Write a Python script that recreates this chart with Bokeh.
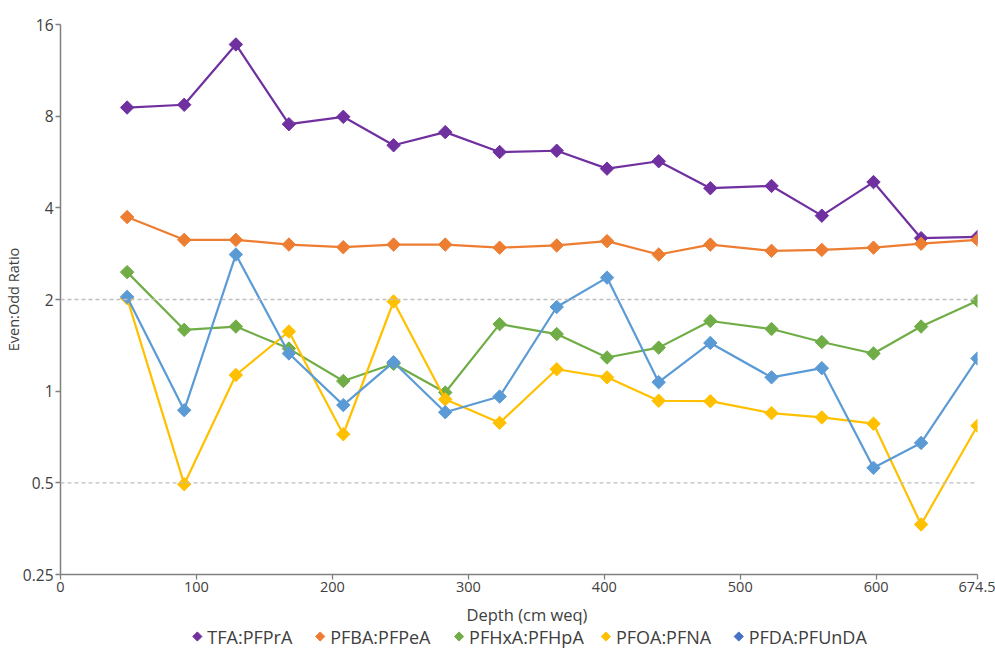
import numpy as np
from bokeh.plotting import figure
from bokeh.layouts import column
from bokeh.models import (Range1d, FixedTicker, CustomJSTickFormatter, ColumnDataSource, Span)
from bokeh.core.properties import value
from bokeh.embed import file_html
from bokeh.resources import INLINE

depth = [49, 91, 129, 168, 208, 245, 283, 323, 365, 402, 440, 478, 523, 560, 598, 633, 674.5]
tfa_pfpra = [8.54, 8.72, 13.76, 7.53, 7.96, 6.42, 7.09, 6.1, 6.16, 5.38, 5.69, 4.64, 4.72, 3.77, 4.86, 3.18, 3.21]
pfba_pfpea = [3.73, 3.14, 3.14, 3.03, 2.97, 3.03, 3.03, 2.96, 3.01, 3.11, 2.81, 3.03, 2.89, 2.91, 2.96, 3.05, 3.14]
pfhxa_pfhpa = [2.46, 1.59, 1.63, 1.38, 1.08, 1.23, 0.99, 1.66, 1.54, 1.29, 1.39, 1.70, 1.60, 1.45, 1.33, 1.63, 1.98]
pfoa_pfna = [2.02, 0.495, 1.13, 1.57, 0.722, 1.97, 0.94, 0.787, 1.18, 1.11, 0.93, 0.927, 0.847, 0.82, 0.782, 0.365, 0.77]
pfda_pfunda = [2.04, 0.866, 2.81, 1.33, 0.90, 1.245, 0.853, 0.96, 1.89, 2.36, 1.07, 1.44, 1.11, 1.19, 0.56, 0.676, 1.28]

series_names = ["TFA:PFPrA", "PFBA:PFPeA", "PFHxA:PFHpA", "PFOA:PFNA", "PFDA:PFUnDA"]
series_values = [tfa_pfpra, pfba_pfpea, pfhxa_pfhpa, pfoa_pfna, pfda_pfunda]
line_colors = ["#7030A0", "#ED7D31", "#70AD47", "#FFC000", "#5B9BD5"]
legend_colors = ["#7030A0", "#ED7D31", "#70AD47", "#FFC000", "#4472C4"]

x_ticks = [0, 100, 200, 300, 400, 500, 600, 674.5]
y_ticks = [0.25, 0.5, 1, 2, 4, 8, 16]
ref_lines = [0.5, 2]
x_title = "Depth (cm weq)"
y_title = "Even:Odd Ratio"

FONT = "Open Sans"
TXT = "#404040"

p = figure(width=995, height=604, output_backend="svg", toolbar_location=None,
           y_axis_type="log", x_range=Range1d(0, 674.5), y_range=Range1d(0.25, 16),
           min_border_left=59, min_border_right=18, min_border_top=24, min_border_bottom=30)
p.outline_line_color = None
p.xgrid.visible = False
p.ygrid.visible = False

for v in ref_lines:
    p.add_layout(Span(location=v, dimension="width", line_color="#BFBFBF",
                      line_dash="4 3", line_width=1.3))

for name, vals, col in zip(series_names, series_values, line_colors):
    src = ColumnDataSource(dict(x=depth, y=vals))
    p.line("x", "y", source=src, line_color=col, line_width=2.2)
    p.scatter("x", "y", source=src, marker="square", angle=np.pi / 4, size=9.5,
              fill_color=col, line_color=col)

xa = p.xaxis[0]
xa.ticker = FixedTicker(ticks=x_ticks)
xa.major_label_overrides = {674.5: "674.5"}
ya = p.yaxis[0]
ya.ticker = FixedTicker(ticks=y_ticks)
ya.formatter = CustomJSTickFormatter(code="return tick.toString();")
ya.axis_label = y_title

for ax in (xa, ya):
    ax.axis_line_color = "#808080"
    ax.axis_line_width = 1.5
    ax.major_tick_line_color = "#808080"
    ax.major_tick_line_width = 1.3
    ax.major_tick_out = 5
    ax.major_tick_in = 0
    ax.minor_tick_line_color = None
    ax.major_label_text_font = FONT
    ax.major_label_text_color = TXT
    ax.axis_label_text_font = FONT
    ax.axis_label_text_color = TXT
    ax.axis_label_text_font_style = "normal"

xa.major_label_text_font_size = "14.5px"
ya.major_label_text_font_size = "15.5px"
ya.axis_label_text_font_size = "14.5px"
xa.major_label_standoff = 2
ya.major_label_standoff = 2
ya.axis_label_standoff = -3

# strip below the chart: x-axis title and legend row (coordinates in page pixels)
leg_x = [196, 319, 458, 605, 738]
lg = figure(width=995, height=45, output_backend="svg", toolbar_location=None,
            x_range=Range1d(59, 977), y_range=Range1d(0, 45),
            min_border_left=59, min_border_right=18, min_border_top=0, min_border_bottom=0)
lg.axis.visible = False
lg.grid.visible = False
lg.outline_line_color = None
lg.text(x=[526], y=[35], text=[x_title], text_font=value(FONT), text_font_size="16.5px",
        text_color=TXT, text_baseline="middle", text_align="center")
lsrc = ColumnDataSource(dict(x=leg_x, tx=[v + 10 for v in leg_x], y=[13] * 5,
                             name=series_names, color=legend_colors))
lg.scatter("x", "y", source=lsrc, marker="square", angle=np.pi / 4, size=6.5,
           fill_color="color", line_color="color")
lg.text("tx", "y", text="name", source=lsrc, text_font=value(FONT),
        text_font_size="18px", text_color=TXT, text_baseline="middle", text_align="left")

layout = column(p, lg, spacing=0)
open("out.html", "w").write(file_html(layout, INLINE))
